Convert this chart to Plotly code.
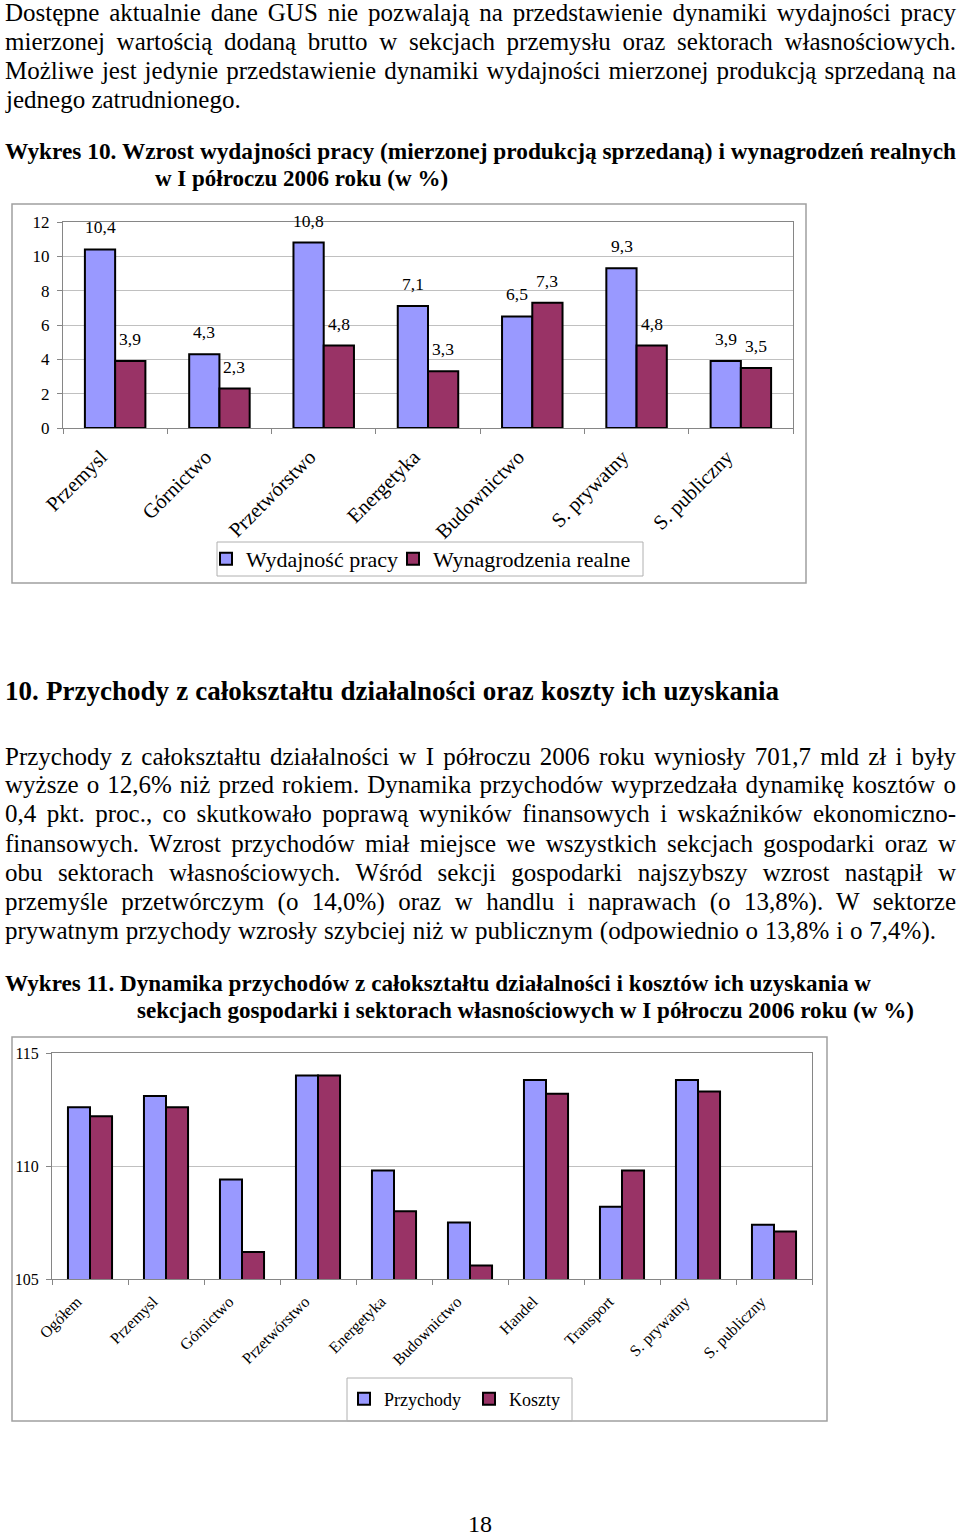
import json
import plotly.graph_objects as go

# ---------------- data ----------------
cats1 = ["Przemysl", "Górnictwo", "Przetwórstwo", "Energetyka", "Budownictwo", "S. prywatny", "S. publiczny"]
wydajnosc = [10.4, 4.3, 10.8, 7.1, 6.5, 9.3, 3.9]
wynagrodzenia = [3.9, 2.3, 4.8, 3.3, 7.3, 4.8, 3.5]
y1_ticks = [0, 2, 4, 6, 8, 10, 12]

cats2 = ["Ogółem", "Przemysl", "Górnictwo", "Przetwórstwo", "Energetyka", "Budownictwo",
         "Handel", "Transport", "S. prywatny", "S. publiczny"]
przychody = [112.6, 113.1, 109.4, 114.0, 109.8, 107.5, 113.8, 108.2, 113.8, 107.4]
koszty = [112.2, 112.6, 106.2, 114.0, 108.0, 105.6, 113.2, 109.8, 113.3, 107.1]
y2_ticks = [105, 110, 115]

para1 = [
    "Dostępne aktualnie dane GUS nie pozwalają na przedstawienie dynamiki wydajności pracy",
    "mierzonej wartością dodaną brutto w sekcjach przemysłu oraz sektorach własnościowych.",
    "Możliwe jest jedynie przedstawienie dynamiki wydajności mierzonej produkcją sprzedaną na",
    "jednego zatrudnionego.",
]
title1 = [
    "Wykres 10. Wzrost wydajności pracy (mierzonej produkcją sprzedaną) i wynagrodzeń realnych",
    "w I półroczu 2006 roku (w %)",
]
heading = "10. Przychody z całokształtu działalności oraz koszty ich uzyskania"
para2 = [
    "Przychody z całokształtu działalności w I półroczu 2006 roku wyniosły 701,7 mld zł i były",
    "wyższe o 12,6% niż przed rokiem. Dynamika przychodów wyprzedzała dynamikę kosztów o",
    "0,4 pkt. proc., co skutkowało poprawą wyników finansowych i wskaźników ekonomiczno-",
    "finansowych. Wzrost przychodów miał miejsce we wszystkich sekcjach gospodarki oraz w",
    "obu sektorach własnościowych. Wśród sekcji gospodarki najszybszy wzrost nastąpił w",
    "przemyśle przetwórczym (o 14,0%) oraz w handlu i naprawach (o 13,8%). W sektorze",
    "prywatnym przychody wzrosły szybciej niż w publicznym (odpowiednio o 13,8% i o 7,4%).",
]
title2 = [
    "Wykres 11. Dynamika przychodów z całokształtu działalności i kosztów ich uzyskania w",
    "sekcjach gospodarki i sektorach własnościowych w I półroczu 2006 roku (w %)",
]
page_number = "18"

# ---------------- layout helpers ----------------
W, H = 960, 1537
FONT = "Liberation Serif, Times New Roman, serif"
BLUE = "#9999FF"
MAROON = "#993366"
AXC = "#868686"
GRID = "#c0c0c0"


def px(x):
    return x / W


def py(y):
    return 1 - y / H


annotations = []
fits = {}


def add_line(text, x, y, size, bold=False, target=None, maxsize=None):
    idx = len(annotations)
    annotations.append(dict(
        text=text, xref="paper", yref="paper", x=px(x), y=py(y),
        xanchor="left", yanchor="middle", align="left", showarrow=False, borderpad=0,
        font=dict(family=FONT, size=size, color="black", weight="bold" if bold else "normal"),
    ))
    if target:
        fits[str(idx)] = [target, maxsize or size, size]
    return idx


BODY, BODY_MAX = 22.5, 25
TITLE, TITLE_MAX = 21.5, 23.5
for i, line in enumerate(para1):
    if i < 3:
        add_line(line, 4, 13 + 29 * i, BODY, target=951, maxsize=BODY_MAX)
    else:
        add_line(line, 4, 12 + 29 * i, BODY_MAX)
add_line(title1[0], 4, 152, TITLE, bold=True, target=951, maxsize=TITLE_MAX)
add_line(title1[1], 154, 178, 23, bold=True)
add_line(heading, 4, 692, 25, bold=True, target=774, maxsize=27)
for i, line in enumerate(para2):
    add_line(line, 4, 757 + 29 * i, BODY, target=951 if i < 6 else 931, maxsize=BODY_MAX)
add_line(title2[0], 4, 984, TITLE, bold=True, target=866, maxsize=TITLE_MAX)
add_line(title2[1], 136, 1011, TITLE, bold=True, target=777, maxsize=TITLE_MAX)
annotations.append(dict(
    text=page_number, xref="paper", yref="paper", x=px(480), y=py(1524),
    xanchor="center", yanchor="middle", showarrow=False, borderpad=0,
    font=dict(family=FONT, size=24, color="black"),
))

# data labels for chart 1
for c, v in zip(cats1, wydajnosc):
    annotations.append(dict(text=f"{v:.1f}".replace(".", ","), x=c, y=v, xref="x", yref="y",
                            xshift=-15, yshift=22, showarrow=False, yanchor="middle",
                            font=dict(family=FONT, size=17.5, color="black")))
for c, v in zip(cats1, wynagrodzenia):
    annotations.append(dict(text=f"{v:.1f}".replace(".", ","), x=c, y=v, xref="x", yref="y",
                            xshift=15, yshift=22, showarrow=False, yanchor="middle",
                            font=dict(family=FONT, size=17.5, color="black")))

# ---------------- figure ----------------
fig = go.Figure()
line_bar = dict(color="black", width=2)
fig.add_trace(go.Bar(x=cats1, y=wydajnosc, name="Wydajność pracy", marker=dict(color=BLUE, line=line_bar),
                     xaxis="x", yaxis="y", legend="legend", legendwidth=142, hoverinfo="skip"))
fig.add_trace(go.Bar(x=cats1, y=wynagrodzenia, name="Wynagrodzenia realne", marker=dict(color=MAROON, line=line_bar),
                     xaxis="x", yaxis="y", legend="legend", hoverinfo="skip"))
fig.add_trace(go.Bar(x=cats2, y=przychody, name="Przychody", marker=dict(color=BLUE, line=line_bar),
                     xaxis="x2", yaxis="y2", legend="legend2", hoverinfo="skip"))
fig.add_trace(go.Bar(x=cats2, y=koszty, name="Koszty", marker=dict(color=MAROON, line=line_bar),
                     xaxis="x2", yaxis="y2", legend="legend2", hoverinfo="skip"))

common_x = dict(type="category", showline=True, linecolor=AXC, linewidth=1, mirror=True,
                ticks="outside", tickson="boundaries", ticklen=5, tickcolor=AXC,
                tickangle=-45, showgrid=False, zeroline=False, automargin=False)
common_y = dict(showline=True, linecolor=AXC, linewidth=1, mirror=True, ticks="outside",
                ticklen=5, tickcolor=AXC, showgrid=True, gridcolor=GRID, gridwidth=1,
                zeroline=False, automargin=False)

shapes = [
    dict(type="rect", xref="paper", yref="paper", x0=px(12), x1=px(806), y0=py(583), y1=py(204),
         line=dict(color="#a0a0a0", width=1.5)),
    dict(type="rect", xref="paper", yref="paper", x0=px(12), x1=px(827), y0=py(1421), y1=py(1037),
         line=dict(color="#a0a0a0", width=1.5)),
    dict(type="rect", xref="paper", yref="paper", x0=px(217), x1=px(643), y0=py(576), y1=py(542),
         line=dict(color="#b0b0b0", width=1)),
    dict(type="rect", xref="paper", yref="paper", x0=px(347), x1=px(572), y0=py(1421), y1=py(1378),
         line=dict(color="#b0b0b0", width=1)),
]

fig.update_layout(
    width=W, height=H, margin=dict(l=0, r=0, t=0, b=0, pad=0, autoexpand=False),
    paper_bgcolor="white", plot_bgcolor="white",
    font=dict(family=FONT, color="black"),
    barmode="group", bargap=0.42, bargroupgap=0,
    xaxis=dict(common_x, domain=[px(63), px(793)], anchor="y", tickfont=dict(size=20.5),
               ticklabelshift=-14, ticklabelstandoff=8),
    yaxis=dict(common_y, domain=[py(428), py(222)], anchor="x", range=[0, 12], tickvals=y1_ticks,
               tickfont=dict(size=17), ticklabelstandoff=4),
    xaxis2=dict(common_x, domain=[px(52), px(812)], anchor="y2", tickfont=dict(size=16),
                ticklabelshift=-13, ticklabelstandoff=6),
    yaxis2=dict(common_y, domain=[py(1279), py(1053)], anchor="x2", range=[105, 115], tickvals=y2_ticks,
                tickfont=dict(size=16), ticklabelstandoff=4),
    legend=dict(orientation="h", x=px(421), y=py(559), xanchor="center", yanchor="middle",
                font=dict(family=FONT, size=22), bgcolor="rgba(0,0,0,0)", borderwidth=0, itemwidth=30),
    legend2=dict(orientation="h", x=px(469), y=py(1399), xanchor="center", yanchor="middle",
                 font=dict(family=FONT, size=18), bgcolor="rgba(0,0,0,0)", borderwidth=0,
                 itemwidth=30, entrywidth=80, entrywidthmode="pixels"),
    annotations=annotations,
    shapes=shapes,
    showlegend=True,
)

post_script = """
document.body.style.margin='0';
var gd=document.getElementById('{plot_id}');
var F=__FITS__;
gd.querySelectorAll('g.annotation').forEach(function(g){
  var i=g.getAttribute('data-index'); if(!(i in F)) return;
  var t=g.querySelector('text.annotation-text'); if(!t) return;
  var tg=F[i][0], mx=F[i][1], base=F[i][2];
  var w=t.getComputedTextLength();
  var s=(t.textContent.match(/ /g)||[]).length;
  var size=Math.min(mx, base*tg/w);
  t.style.fontSize=size+'px';
  var w2=t.getComputedTextLength();
  if(w2>tg){ size=size*tg/w2; t.style.fontSize=size+'px'; w2=t.getComputedTextLength(); }
  if(s>0 && w2<tg){ t.style.wordSpacing=((tg-w2)/s)+'px'; }
});
""".replace("__FITS__", json.dumps(fits))

fig.write_html("out.html", post_script=post_script, config={"displayModeBar": False})
